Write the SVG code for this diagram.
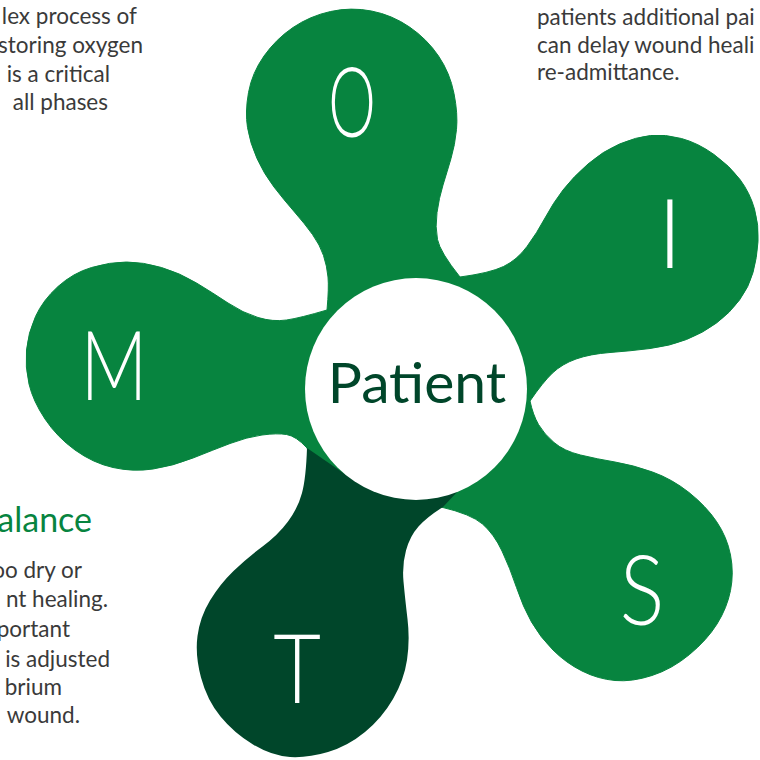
<svg xmlns="http://www.w3.org/2000/svg" width="760" height="760" viewBox="0 0 760 760">
<style>
.petal{fill:#07843f;stroke:#07843f;stroke-width:1;stroke-linejoin:round}
.dark{fill:#00462a}
.letter{font-family:Lato,"Open Sans",sans-serif;font-weight:300;font-size:97px;fill:#ffffff;text-anchor:middle}
.body{font-family:Lato,"Open Sans",sans-serif;font-size:22.5px;fill:#3a3a3a}
.end{text-anchor:end}
.head{font-family:Lato,"Open Sans",sans-serif;font-size:34px;fill:#07843f;text-anchor:end}
.hub{font-family:Lato,"Open Sans",sans-serif;font-size:57px;fill:#00462a;text-anchor:middle}
</style>
<rect width="760" height="760" fill="#ffffff"/>
<g id="texts">
<text class="body end" x="137" y="24">lex process of</text>
<text class="body end" x="143" y="53">storing oxygen</text>
<text class="body end" x="110" y="81.5">is a critical</text>
<text class="body end" x="108" y="110">all phases</text>
<text class="body" x="537" y="25">patients additional pai</text>
<text class="body" x="537" y="53">can delay wound heali</text>
<text class="body" x="537" y="80">re-admittance.</text>
<text class="head" x="92" y="532">alance</text>
<text class="body end" x="82" y="578">oo dry or</text>
<text class="body end" x="108" y="607">nt healing.</text>
<text class="body end" x="70" y="637">portant</text>
<text class="body end" x="110" y="667">is adjusted</text>
<text class="body end" x="62" y="695">brium</text>
<text class="body end" x="80" y="723">wound.</text>
</g>
<g id="node-O">
<path class="petal" d="M327,310 Q329,288 328,277 Q327,266 323.5,255.5 Q320,245 312.5,234.5 Q305,224 294.5,212 Q284,200 274,187 Q264,174 257,158.5 Q250,143 247.5,127.5 Q245,112 248.5,92.5 Q252,73 264,56 Q276,39 293,27.5 Q310,16 330.5,11.5 Q351,7 371.5,11 Q392,15 409.5,27 Q427,39 438.5,56 Q450,73 454,93.5 Q458,114 456.5,129.5 Q455,145 451,158.5 Q447,172 443,185 Q439,198 437,212.5 Q435,227 437.5,239.5 Q440,252 460,277 L416,389 Z"/>
<text class="letter" transform="translate(352,137) scale(0.62,1)">O</text>
</g>
<g id="node-I">
<path class="petal" d="M460,277 Q490,273 503.5,266.5 Q517,260 527,246.5 Q537,233 545,218 Q553,203 563,190 Q573,177 588,164 Q603,151 619.5,144 Q636,137 650.5,135.5 Q665,134 681.5,138.5 Q698,143 714,154.5 Q730,166 740,179.5 Q750,193 754.5,209 Q759,225 758,241.5 Q757,258 753,272.5 Q749,287 739.5,300 Q730,313 716.5,323 Q703,333 686.5,339.5 Q670,346 650,348.5 Q630,351 610,352.5 Q590,354 576,359 Q562,364 552.5,373 Q543,382 530,401 L416,389 Z"/>
<text class="letter" x="670" y="268">I</text>
</g>
<g id="node-S">
<path class="petal" d="M530,401 Q533,415 538.5,424.5 Q544,434 554,442.5 Q564,451 580.5,455 Q597,459 615,462 Q633,465 652.5,472 Q672,479 689,492.5 Q706,506 716.5,521.5 Q727,537 730.5,555 Q734,573 730.5,590.5 Q727,608 717,624 Q707,640 689.5,654.5 Q672,669 652,675.5 Q632,682 615,680.5 Q598,679 582,671 Q566,663 553,650 Q540,637 531.5,622 Q523,607 516.5,587.5 Q510,568 502,551 Q494,534 482.5,524 Q471,514 441,507 L415,520 L416,389 Z"/>
<text class="letter" transform="translate(642,625) scale(0.86,1)">S</text>
</g>
<g id="node-M">
<path class="petal" d="M415,520 L330,500 L307,448 Q296,436 286.5,434.5 Q277,433 262,435 Q247,437 230,443.5 Q213,450 193,458 Q173,466 153,469 Q133,472 113,467.5 Q93,463 75,450 Q57,437 45,419 Q33,401 29,384 Q25,367 26.5,350 Q28,333 35.5,316.5 Q43,300 58,286.5 Q73,273 91.5,267.5 Q110,262 126.5,262 Q143,262 161.5,267.5 Q180,273 196.5,283 Q213,293 228,303 Q243,313 258,317.5 Q273,322 286.5,320 Q300,318 327,310 L416,389 Z"/>
<text class="letter" transform="translate(114,400) scale(0.76,1)">M</text>
</g>
<g id="node-T">
<path class="dark" d="M307,448 L352,479 L416,470 L458,491 L443,507 Q427,517 418.5,526.5 Q410,536 406,550.5 Q402,565 403.5,581.5 Q405,598 407.5,619 Q410,640 407,660 Q404,680 393,699 Q382,718 365,732 Q348,746 328,752 Q308,758 290,757 Q272,756 253,744.5 Q234,733 220.5,716.5 Q207,700 201,677.5 Q195,655 197.5,636 Q200,617 210,600.5 Q220,584 233.5,571 Q247,558 262.5,546.5 Q278,535 288,521.5 Q298,508 302,493 Q306,478 307,448 Z"/>
<text class="letter" transform="translate(297,703) scale(0.85,1)">T</text>
</g>
<g id="node-patient">
<circle cx="416" cy="389" r="111" fill="#ffffff"/>
<text class="hub" x="417" y="403">Patient</text>
</g>
<g id="connectors"></g>
</svg>
